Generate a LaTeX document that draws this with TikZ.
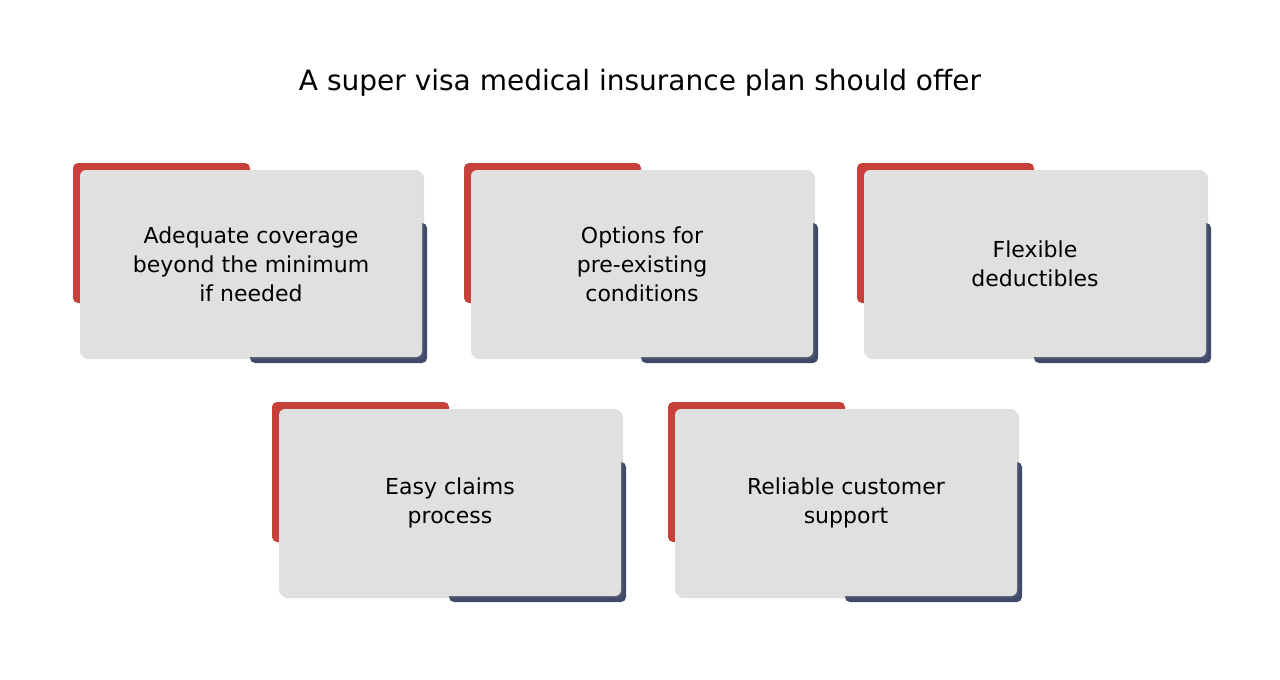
\documentclass[tikz,border=0pt]{standalone}
\usepackage{fontspec}
\setmainfont{DejaVu Sans}
\usetikzlibrary{shadows}
\definecolor{cred}{HTML}{C8403A}
\definecolor{cnavy}{HTML}{3F4A68}
\definecolor{cgray}{HTML}{E0E0E0}
\tikzset{
  redbk/.style={fill=cred,rounded corners=5pt},
  navybk/.style={fill=cnavy,rounded corners=5pt},
  card/.style={fill=cgray,rounded corners=6pt,drop shadow={opacity=0.25,shadow xshift=2pt,shadow yshift=-2pt}},
  lbl/.style={align=center,font=\fontsize{22}{29}\selectfont,text=black}
}
\begin{document}
\begin{tikzpicture}[x=1pt,y=-1pt]
\useasboundingbox[fill=white] (0,0) rectangle (1280,680);
\node[font=\fontsize{28}{34}\selectfont] (title) at (640,83) {A super visa medical insurance plan should offer};
\newcommand{\mycard}[4]{%
  \fill[redbk] (#1-7,#2-7) rectangle (#1+170,#2+133);
  \fill[navybk] (#1+170,#2+53) rectangle (#1+347,#2+193);
  \path[card] (#1,#2) rectangle (#1+342,#2+187);
  \node[lbl] (#3) at (#1+171,#2+94) {#4};
}
\mycard{80}{170}{c1}{Adequate coverage\\beyond the minimum\\if needed}
\mycard{471}{170}{c2}{Options for\\pre-existing\\conditions}
\mycard{864}{170}{c3}{Flexible\\deductibles}
\mycard{279}{409}{c4}{Easy claims\\process}
\mycard{675}{409}{c5}{Reliable customer\\support}
\end{tikzpicture}
\end{document}
